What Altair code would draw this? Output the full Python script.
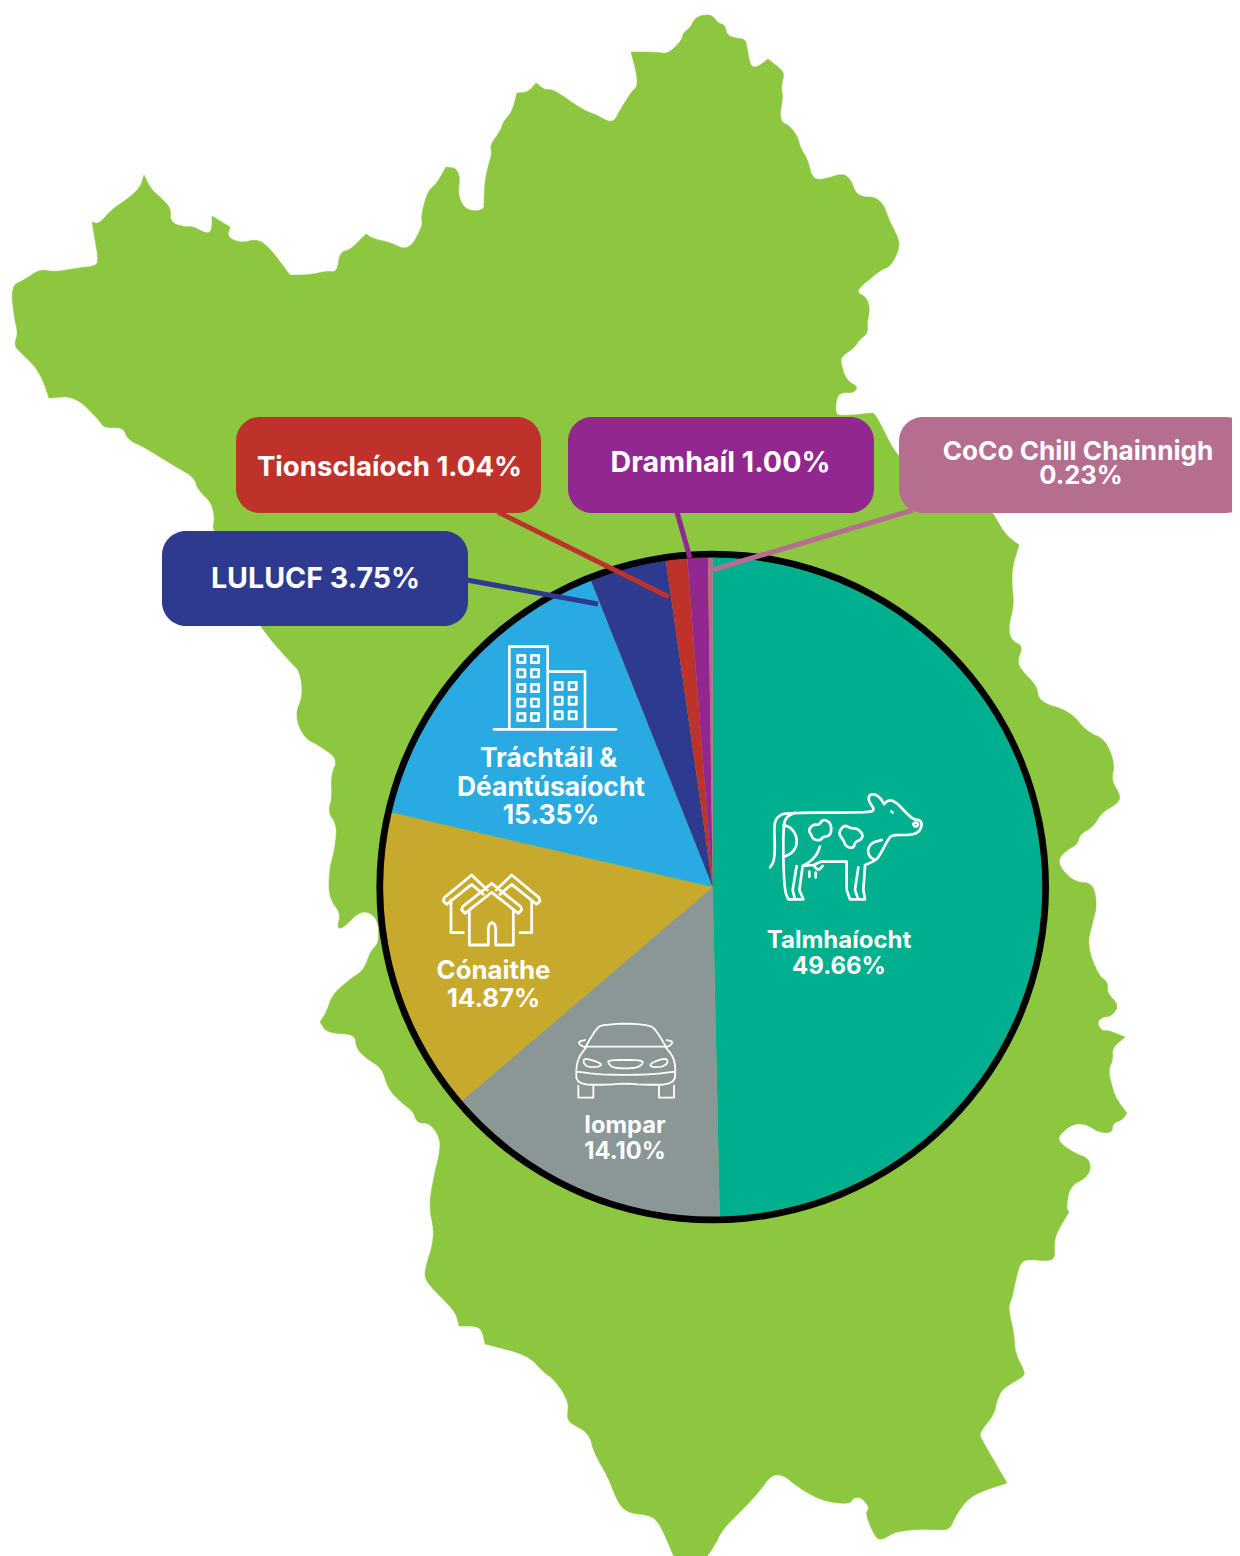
import altair as alt
import pandas as pd

# Pie data
CATEGORIES = ["Talmhaíocht", "Iompar", "Cónaithe", "Tráchtáil & Déantúsaíocht",
              "LULUCF", "Tionsclaíoch", "Dramhaíl", "CoCo Chill Chainnigh"]
SHARES = [49.66, 14.10, 14.87, 15.35, 3.75, 1.04, 1.00, 0.23]
COLOURS = ["#00AF8E", "#8B9696", "#C7A92B", "#29ABE2", "#2E3990", "#BF312B", "#92278F", "#B56D90"]

# Callout boxes
BOX_NAMES = ["LULUCF", "Tionsclaíoch", "Dramhaíl", "CoCo"]
BOX_X = [162, 236, 568, 899]
BOX_X2 = [468, 541, 874, 1250]
BOX_Y = [531, 417, 417, 417]
BOX_Y2 = [626, 513, 513, 513]
BOX_COLOURS = ["#2E3990", "#BF312B", "#92278F", "#B56D90"]

# Connectors
LINE_X = [467, 498, 677, 913]
LINE_X2 = [598, 669, 690, 712]
LINE_Y = [580, 512, 512, 510]
LINE_Y2 = [604, 597, 558, 570]

# Texts: (lines, x centres, y centres, font size)
TEXT_GROUPS = [
    (["LULUCF 3.75%"], [315.5], [578.5], 28.6),
    (["Tionsclaíoch 1.04%"], [389.5], [467.5], 27.6),
    (["Dramhaíl 1.00%"], [720.5], [462.5], 28.6),
    (["CoCo Chill Chainnigh"], [1078], [452], 26.2),
    (["0.23%"], [1081], [476], 25.6),
    (["Talmhaíocht", "49.66%"], [839, 839], [940.5, 966.5], 24),
    (["Iompar", "14.10%"], [625, 625], [1126, 1151.5], 23.7),
    (["Cónaithe", "14.87%"], [493.5, 493.5], [970.5, 998.5], 25.8),
    (["Tráchtáil &", "Déantúsaíocht", "15.35%"], [548.5, 551, 551], [758.5, 787.5, 815.5], 26.4),
]

# County outline
MAP_OUTLINE = [
 (11,286),(24,280),(40,269),(55,272),(77,268),(97,266),(98,257),(95,240),(92,222),(99,224),(111,210),(126,200),
 (140,188),(144,175),(151,189),(160,197),(171,208),(170,222),(184,227),(192,226),(207,234),(212,230),(212,216),
 (230,227),(227,237),(241,243),(257,239),(269,247),(290,275),(308,275),(328,271),(337,272),(340,252),(350,250),
 (366,234),(374,239),(389,242),(409,251),(423,225),(421,218),(425,200),(429,190),(437,183),(446,167),(456,168),
 (460,178),(458,192),(462,205),(470,211),(484,210),(484,200),(485,180),(489,163),(492,153),(490,145),(501,130),
 (503,122),(512,112),(517,93),(528,92),(536,83),(545,90),(553,89),(583,110),(597,115),(609,122),(615,120),(620,110),
 (632,91),(637,87),(637,75),(631,52),(656,52),(668,54),(682,40),(683,33),(690,28),(695,18),(703,15),(712,15),
 (718,23),(725,25),(727,35),(735,38),(745,39),(747,47),(750,65),(756,68),(768,59),(782,70),(784,75),(781,87),
 (783,97),(780,113),(782,123),(789,125),(798,137),(800,147),(808,160),(812,178),(822,180),(843,173),(851,180),
 (855,192),(863,197),(875,197),(884,205),(889,220),(897,235),(900,247),(891,266),(881,270),(871,278),(859,288),
 (858,293),(866,297),(870,308),(867,323),(868,333),(859,340),(855,347),(841,357),(841,363),(845,377),(851,383),
 (858,387),(853,393),(845,392),(837,395),(835,413),(841,416),(873,413),(877,417),(895,453),(905,460),(985,505),
 (992,512),(997,520),(1005,534),(1019,545),(1012,568),(1012,586),(1014,604),(1008,629),(1012,641),(1023,646),
 (1017,661),(1022,671),(1037,686),(1039,702),(1070,711),(1087,732),(1105,739),(1115,764),(1111,780),(1121,796),
 (1117,804),(1102,812),(1093,827),(1080,834),(1077,845),(1068,849),(1058,859),(1062,870),(1075,882),(1093,883),
 (1097,905),(1093,921),(1087,945),(1098,975),(1108,982),(1107,993),(1119,1005),(1112,1016),(1102,1017),(1097,1023),
 (1102,1031),(1108,1030),(1125,1037),(1112,1048),(1113,1060),(1108,1070),(1113,1090),(1117,1100),(1127,1113),
 (1122,1120),(1113,1123),(1112,1133),(1098,1132),(1088,1125),(1074,1123),(1059,1135),(1059,1142),(1074,1153),
 (1088,1158),(1091,1168),(1086,1178),(1070,1186),(1066,1208),(1069,1212),(1057,1232),(1054,1243),(1055,1259),
 (1045,1261),(1028,1259),(1020,1263),(1015,1283),(1012,1298),(1008,1308),(1014,1333),(1015,1353),(1025,1372),
 (1023,1377),(1003,1388),(997,1400),(994,1415),(979,1433),(982,1440),(1007,1483),(977,1493),(965,1502),(955,1517),
 (950,1529),(940,1530),(923,1529),(899,1531),(890,1535),(881,1540),(875,1537),(865,1513),(870,1508),(861,1497),
 (853,1498),(850,1504),(827,1502),(807,1493),(793,1483),(783,1475),(771,1475),(759,1492),(744,1508),(722,1530),
 (715,1545),(703,1562),(676,1562),(667,1540),(659,1523),(650,1515),(628,1513),(618,1503),(608,1477),(594,1453),
 (589,1433),(570,1423),(567,1417),(569,1402),(555,1380),(543,1372),(528,1355),(485,1344),(482,1330),(475,1326),
 (459,1326),(456,1313),(441,1297),(432,1288),(424,1277),(427,1262),(432,1247),(434,1230),(429,1207),(433,1180),
 (441,1147),(438,1134),(429,1123),(417,1123),(413,1111),(403,1104),(388,1089),(382,1068),(367,1059),(356,1048),
 (355,1034),(327,1033),(320,1022),(327,1011),(332,995),(350,979),(364,970),(371,950),(379,943),(378,918),(362,909),
 (342,929),(337,927),(341,914),(329,898),(329,871),(335,848),(337,825),(328,812),(332,798),(331,775),(338,759),
 (320,746),(303,737),(295,714),(303,696),(300,671),(290,662),(260,627),(240,590),(212,530),(215,518),(211,502),
 (198,490),(194,477),(178,468),(168,462),(144,447),(128,440),(123,427),(104,428),(99,420),(75,396),(49,398),
 (43,380),(34,365),(20,352),(14,345),(18,333),(14,317),(11,286),
]
# Corners of the outline that stay sharp in the picture
SHARP_CORNERS = {(144,175),(212,216),(230,227),(290,275),(446,167),(517,93),(536,83),(631,52),(768,59),
                 (1019,545),(1125,1037),(1007,1483),(459,1326),(485,1344),(320,1022),(49,398),(92,222),
                 (366,234),(1127,1113),(1069,1212),(873,413),(703,1562),(676,1562)}

# Rounds off the corners of a stroke or outline (drawing style only)
def chaikin(pts, n=2):
    closed = pts[0] == pts[-1]
    for _ in range(n):
        out = [pts[0]] if not closed else []
        for a, b in zip(pts[:-1], pts[1:]):
            out.append((0.75*a[0]+0.25*b[0], 0.75*a[1]+0.25*b[1]))
            out.append((0.25*a[0]+0.75*b[0], 0.25*a[1]+0.75*b[1]))
        if closed:
            out.append(out[0])
        else:
            out.append(pts[-1])
        pts = out
    return pts

def place(origin, strokes, smooth=False):
    res = []
    for s in strokes:
        s2 = chaikin(s) if smooth else s
        res.append([[origin[0]+x/3, origin[1]+y/3] for x, y in s2])
    return res

def square(cx, cy, h):
    return [(cx-h, cy-h), (cx+h, cy-h), (cx+h, cy+h), (cx-h, cy+h), (cx-h, cy-h)]

BUILDING = [
    [(42,283),(408,283)],
    [(88,283),(88,35),(203,35),(203,283)],
    [(203,110),(315,110),(315,283)],
]
for cx in (124,165):
    for cy in (72,115,159,203,246):
        BUILDING.append(square(cx,cy,11))
for cx in (236,278):
    for cy in (153,197,241):
        BUILDING.append(square(cx,cy,11))

HOUSE = [
    [(185,55),(98,125),(95,135),(105,145),(185,82),(265,145),(275,135),(272,125),(185,55)],
    [(118,135),(118,240),(175,240),(175,190),(178,178),(186,172),(194,178),(197,190),(197,240),(250,240),(250,135)],
    [(172,75),(125,30),(43,98),(40,108),(50,118),(125,58),(160,88)],
    [(63,105),(63,203),(100,203)],
    [(198,75),(245,30),(327,98),(330,108),(320,118),(245,58),(210,88)],
    [(305,105),(305,203),(270,203)],
]

CAR = [
    [(62,95),(82,60),(100,35),(115,30),(180,25),(250,30),(268,40),(285,65),(303,95)],
    [(60,95),(305,95)],
    [(65,95),(42,125),(33,160),(35,208),(120,210),(180,205),(240,210),(328,208),(332,160),(325,125),(300,95)],
    [(60,75),(40,80),(45,90),(60,97)],
    [(305,75),(325,80),(315,92),(303,97)],
    [(58,128),(110,145),(105,155),(70,157),(55,145),(58,128)],
    [(302,128),(255,145),(258,157),(295,155),(310,142),(302,128)],
    [(130,135),(230,135),(235,145),(215,160),(145,160),(130,145),(130,135)],
    [(35,170),(100,178),(180,180),(260,178),(330,170)],
]
WHEELS = [
    [(40,212),(40,248),(85,248),(85,212)],
    [(282,212),(282,248),(327,248),(327,212)],
]

COW = [
    [(60,262),(72,245),(75,200),(72,130),(85,108),(110,98),(355,98),(375,90),(355,62),(358,44),(375,42),(392,55),(402,72)],
    [(402,72),(415,60),(437,65),(470,100),(490,118),(510,120),(517,135),(505,158),(480,165),(430,165),(418,172),(395,215),(380,240),(345,255)],
    [(135,98),(110,110),(100,135),(100,260),(105,335),(115,358)],
    [(100,135),(122,142),(140,168),(140,198),(125,220),(100,232)],
    [(210,200),(200,225),(180,245),(158,258)],
    [(190,255),(205,272),(218,258)],
    [(175,150),(190,133),(208,135),(218,118),(238,125),(245,145),(240,167),(220,170),(210,182),(190,178),(184,165),(175,150)],
    [(270,150),(285,135),(302,145),(322,145),(340,165),(332,180),(316,185),(310,205),(288,200),(280,180),(268,165),(270,150)],
    [(395,180),(365,188),(352,210),(360,232),(375,240)],
    [(488,132),(498,126),(506,134),(497,142),(488,132)],
]
COW_LEGS = [
    [(115,358),(160,358),(148,330),(158,258),(190,255),(212,245),(290,245),(290,330),(300,358),(345,358),(340,330),(345,258)],
    [(140,258),(128,330),(135,358)],
    [(325,262),(315,330),(325,358)],
    [(178,275),(178,290)],
    [(197,278),(197,292)],
    [(424,94),(428,98)],
]

X = alt.Scale(domain=[8, 1232], range=[0, 1224])
Y = alt.Scale(domain=[8, 1556], range=[0, 1548])
PROJ = alt.Projection(type="identity", scale=1, translate=[-8, -8])
CX, CY = 704.7, 879.0  # pie centre inside the plot area
FONT = "Inter"

def ex(name):
    return alt.X(f"{name}:Q", scale=X, axis=None)

def ey(name):
    return alt.Y(f"{name}:Q", scale=Y, axis=None)

doubled = []
for p in MAP_OUTLINE:
    doubled.append(p)
    if p in SHARP_CORNERS:
        doubled.append(p)
outline = [[x, y] for x, y in chaikin(doubled, 2)]
map_feature = {"type": "Feature", "properties": {},
               "geometry": {"type": "Polygon", "coordinates": [outline]}}
land = alt.Chart(alt.Data(values=[map_feature])).mark_geoshape(
    fill="#8DC63F", stroke="#8DC63F", strokeWidth=0.5).project(**PROJ.to_dict())

def icon_layer(lines, width):
    feat = {"type": "Feature", "properties": {},
            "geometry": {"type": "MultiLineString", "coordinates": lines}}
    return alt.Chart(alt.Data(values=[feat])).mark_geoshape(
        filled=False, stroke="white", strokeWidth=width,
        strokeCap="round", strokeJoin="round").project(**PROJ.to_dict())

pie_df = pd.DataFrame({"cat": CATEGORIES, "share": SHARES, "colour": COLOURS,
                       "idx": list(range(len(SHARES)))})
ring = alt.Chart(pie_df.head(1)).mark_arc(
    theta=0, theta2=6.28319, radius=336.3, radius2=329, color="black"
).encode(x=alt.value(CX), y=alt.value(CY))
pie = alt.Chart(pie_df).mark_arc(radius=329.5).encode(
    theta=alt.Theta("share:Q", stack=True, scale=alt.Scale(domain=[0, 100], range=[0, 6.283185])),
    order=alt.Order("idx:Q"),
    color=alt.Color("colour:N", scale=None),
    x=alt.value(CX), y=alt.value(CY),
)

line_df = pd.DataFrame({"x": LINE_X, "x2": LINE_X2, "y": LINE_Y, "y2": LINE_Y2, "colour": BOX_COLOURS})
lines = alt.Chart(line_df).mark_rule(strokeWidth=5).encode(
    x=ex("x"), x2="x2:Q", y=ey("y"), y2="y2:Q", color=alt.Color("colour:N", scale=None))

box_df = pd.DataFrame({"name": BOX_NAMES, "x": BOX_X, "x2": BOX_X2, "y": BOX_Y, "y2": BOX_Y2, "colour": BOX_COLOURS})
boxes = alt.Chart(box_df).mark_rect(cornerRadius=24).encode(
    x=ex("x"), x2="x2:Q", y=ey("y"), y2="y2:Q", color=alt.Color("colour:N", scale=None))

def text_layer(texts, xs, ys, size, weight="bold"):
    df = pd.DataFrame({"t": texts, "x": xs, "y": ys})
    return alt.Chart(df).mark_text(font=FONT, fontSize=size, fontWeight=weight, color="white",
                                   align="center", baseline="middle").encode(
        x=ex("x"), y=ey("y"), text="t:N")

layers = [
    land, ring, pie, lines, boxes,
    icon_layer(place((480, 635), BUILDING), 2.6),
    icon_layer(place((430, 865), HOUSE), 2.8),
    icon_layer(place((565, 1015), CAR, True) + place((565, 1015), WHEELS), 1.8),
    icon_layer(place((750, 780), COW, True) + place((750, 780), COW_LEGS), 2.7),
] + [text_layer(*g) for g in TEXT_GROUPS]

chart = alt.layer(*layers).properties(
    width=1224, height=1548, padding=0,
    autosize=alt.AutoSizeParams(type="none", contains="padding")).configure_view(stroke=None)

chart.save("out.html", embed_options={"renderer": "svg", "actions": False})
